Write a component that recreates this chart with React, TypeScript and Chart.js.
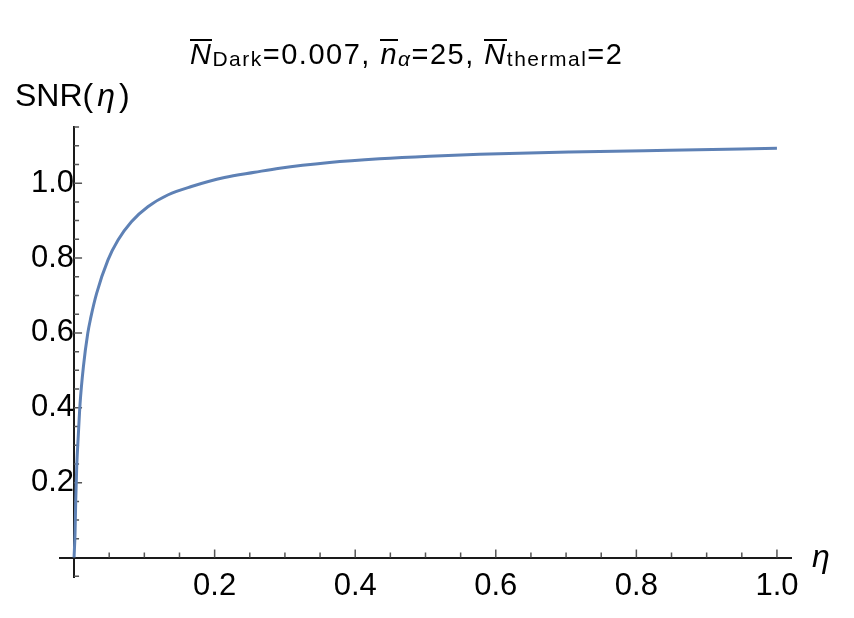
import { useEffect, useRef } from "react";
import Chart from "chart.js/auto";

// curve (eta, SNR)
const etaValues = [
  0, 0.0014, 0.0024, 0.0038, 0.0062, 0.0085, 0.0133, 0.0195, 0.0237, 0.032,
  0.0483, 0.0626, 0.0816, 0.105, 0.134, 0.167, 0.214, 0.257, 0.2925, 0.3636,
  0.4346, 0.5057, 0.5768, 0.7048, 0.8469, 1.0,
];
const snrValues = [
  0, 0.065, 0.154, 0.243, 0.332, 0.41, 0.51, 0.599, 0.64, 0.705, 0.795, 0.848,
  0.897, 0.937, 0.969, 0.991, 1.015, 1.029, 1.04, 1.055, 1.065, 1.072, 1.077,
  1.083, 1.088, 1.093,
];

const xTickValues = [0.2, 0.4, 0.6, 0.8, 1.0];
const xTickLabels = ["0.2", "0.4", "0.6", "0.8", "1.0"];
const yTickValues = [0.2, 0.4, 0.6, 0.8, 1.0];
const yTickLabels = ["0.2", "0.4", "0.6", "0.8", "1.0"];

// small tick marks every 0.05
const xMinorTicks = [
  0.05, 0.1, 0.15, 0.2, 0.25, 0.3, 0.35, 0.4, 0.45, 0.5, 0.55, 0.6, 0.65, 0.7,
  0.75, 0.8, 0.85, 0.9, 0.95, 1.0,
];
const yMinorTicks = [
  -0.05, 0.05, 0.1, 0.15, 0.2, 0.25, 0.3, 0.35, 0.4, 0.45, 0.5, 0.55, 0.6, 0.65,
  0.7, 0.75, 0.8, 0.85, 0.9, 0.95, 1.0, 1.05, 1.1, 1.15,
];

const FONT = "'Liberation Sans', Arial, Helvetica, sans-serif";

const isMajor = (v: number) => Math.abs(v / 0.2 - Math.round(v / 0.2)) < 1e-6;

const tickMarks = {
  id: "tickMarks",
  beforeDatasetsDraw(chart: any) {
    const { ctx, scales } = chart;
    const x = scales.x;
    const y = scales.y;
    const x0 = x.getPixelForValue(0);
    const y0 = y.getPixelForValue(0);
    ctx.save();
    ctx.strokeStyle = "#555";
    ctx.lineWidth = 1.5;
    ctx.beginPath();
    xMinorTicks.forEach((v) => {
      const px = x.getPixelForValue(v);
      const len = isMajor(v) ? 8 : 5;
      ctx.moveTo(px, y0);
      ctx.lineTo(px, y0 - len);
    });
    yMinorTicks.forEach((v) => {
      const py = y.getPixelForValue(v);
      const len = isMajor(v) ? 8 : 5;
      ctx.moveTo(x0, py);
      ctx.lineTo(x0 + len, py);
    });
    ctx.stroke();
    ctx.restore();
  },
};

const SnrChart = () => {
  const canvasRef = useRef<HTMLCanvasElement | null>(null);

  useEffect(() => {
    if (!canvasRef.current) return;
    const ctx = canvasRef.current.getContext("2d");
    if (!ctx) return;

    const chart = new Chart(ctx, {
      type: "scatter",
      data: {
        datasets: [
          {
            data: etaValues.map((e, i) => ({ x: e, y: snrValues[i] })),
            showLine: true,
            borderColor: "#5e81b5",
            borderWidth: 3,
            pointRadius: 0,
            cubicInterpolationMode: "monotone",
          },
        ],
      },
      options: {
        animation: false,
        responsive: true,
        maintainAspectRatio: false,
        layout: { padding: { left: 60, right: 63, top: 127, bottom: 41 } },
        plugins: { legend: { display: false }, tooltip: { enabled: false } },
        scales: {
          x: {
            type: "linear",
            min: -0.02,
            max: 1.02,
            position: { y: 0 } as any,
            grid: { display: false, drawTicks: false },
            border: { display: true, color: "#1a1a1a", width: 2 },
            afterBuildTicks: (s: any) => {
              s.ticks = xTickValues.map((value) => ({ value }));
            },
            ticks: {
              callback: (_v: any, i: number) => xTickLabels[i],
              font: { family: FONT, size: 31 },
              color: "#000",
              padding: 10,
              maxRotation: 0,
              autoSkip: false,
            },
          },
          y: {
            type: "linear",
            min: -0.052,
            max: 1.15,
            position: { x: 0 } as any,
            grid: { display: false, drawTicks: false },
            border: { display: true, color: "#1a1a1a", width: 2 },
            afterBuildTicks: (s: any) => {
              s.ticks = yTickValues.map((value) => ({ value }));
            },
            ticks: {
              callback: (_v: any, i: number) => yTickLabels[i],
              font: { family: FONT, size: 31 },
              color: "#000",
              padding: 10,
              autoSkip: false,
            },
          },
        },
      },
      plugins: [tickMarks],
    });

    return () => {
      chart.destroy();
    };
  }, []);

  const over = {
    display: "inline-block",
    fontStyle: "italic",
    borderTop: "2px solid #000",
    lineHeight: 0.9,
  } as const;
  const sub = { fontSize: 21, verticalAlign: "-2px" } as const;

  return (
    <div
      style={{
        position: "fixed",
        left: 0,
        top: 0,
        width: 854,
        height: 618,
        background: "#fff",
        fontFamily: FONT,
        color: "#000",
      }}
    >
      <canvas ref={canvasRef} />
      <div
        style={{
          position: "absolute",
          left: 190,
          top: 39,
          fontSize: 29,
          lineHeight: "29px",
          whiteSpace: "nowrap",
          letterSpacing: 1.5,
        }}
      >
        <span style={over}>N</span>
        <span style={sub}>Dark</span>=0.007, <span style={over}>n</span>
        <span style={{ ...sub, fontStyle: "italic" }}>α</span>=25,{" "}
        <span style={over}>N</span>
        <span style={sub}>thermal</span>=2
      </div>
      <div
        style={{
          position: "absolute",
          left: 15,
          top: 79,
          fontSize: 32,
          lineHeight: "32px",
          whiteSpace: "nowrap",
        }}
      >
        SNR(<span style={{ fontStyle: "italic", margin: "0 4px" }}>η</span>)
      </div>
      <div
        style={{
          position: "absolute",
          left: 812,
          top: 540,
          fontSize: 32,
          lineHeight: "32px",
          fontStyle: "italic",
        }}
      >
        η
      </div>
    </div>
  );
};

export default function App() {
  return <SnrChart />;
}
